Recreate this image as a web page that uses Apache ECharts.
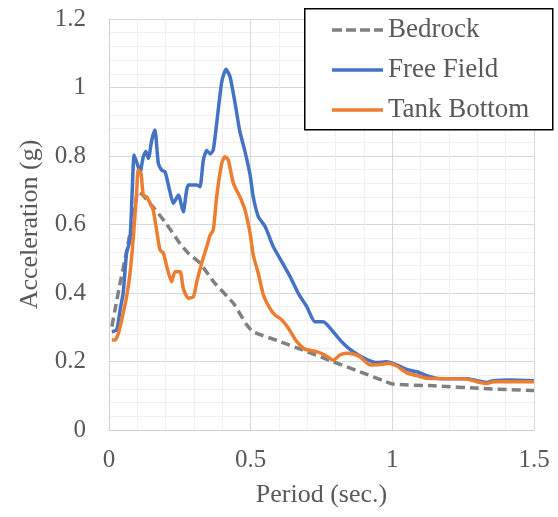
<!DOCTYPE html>
<html>
<head>
<meta charset="utf-8">
<script src="https://cdn.jsdelivr.net/npm/echarts@6/dist/echarts.min.js"></script>
<style>
html,body{margin:0;padding:0;background:#fff;}
#chart{width:558px;height:517px;}
</style>
</head>
<body>
<div id="chart"></div>
<script>
// X-axis tick labels: 0, 0.5, 1, 1.5; Y-axis: 0 ... 1.2
const seriesNames = ['Bedrock', 'Free Field', 'Tank Bottom'];

const bedrockT = [0.01,0.021,0.039,0.056,0.074,0.092,0.103,0.162,0.204,0.25,0.28,0.321,0.374,0.439,0.486,0.509,0.604,0.698,0.792,0.886,0.968,1.004,1.145,1.321,1.5];
const bedrockA = [0.302,0.35,0.428,0.496,0.574,0.652,0.696,0.645,0.60,0.545,0.516,0.487,0.428,0.37,0.307,0.287,0.258,0.229,0.199,0.17,0.144,0.134,0.129,0.121,0.115];

const freeFieldT = [0.01,0.027,0.039,0.05,0.062,0.074,0.082,0.089,0.103,0.109,0.121,0.13,0.139,0.151,0.162,0.174,0.186,0.198,0.215,0.227,0.245,0.262,0.28,0.31,0.321,0.333,0.345,0.357,0.368,0.38,0.398,0.413,0.427,0.445,0.462,0.48,0.498,0.509,0.527,0.551,0.58,0.61,0.639,0.668,0.698,0.727,0.756,0.786,0.815,0.845,0.88,0.915,0.945,0.98,1.016,1.051,1.086,1.133,1.168,1.263,1.298,1.333,1.357,1.415,1.5];
const freeFieldA = [0.287,0.292,0.35,0.40,0.516,0.555,0.70,0.803,0.769,0.75,0.798,0.813,0.793,0.847,0.876,0.779,0.759,0.754,0.696,0.662,0.686,0.637,0.715,0.715,0.71,0.788,0.816,0.806,0.818,0.895,1.017,1.053,1.032,0.954,0.871,0.813,0.745,0.681,0.623,0.594,0.535,0.491,0.448,0.399,0.36,0.316,0.316,0.292,0.263,0.239,0.219,0.204,0.197,0.199,0.19,0.177,0.17,0.156,0.15,0.15,0.144,0.139,0.144,0.146,0.144];

const tankBottomT = [0.01,0.021,0.033,0.05,0.062,0.074,0.086,0.098,0.103,0.113,0.121,0.133,0.145,0.156,0.168,0.18,0.192,0.204,0.221,0.233,0.251,0.262,0.28,0.298,0.31,0.327,0.345,0.357,0.368,0.38,0.398,0.409,0.421,0.439,0.462,0.48,0.498,0.509,0.527,0.545,0.568,0.586,0.61,0.633,0.663,0.692,0.733,0.762,0.792,0.815,0.839,0.862,0.886,0.921,0.968,0.986,1.016,1.051,1.086,1.121,1.263,1.298,1.333,1.357,1.5];
const tankBottomA = [0.263,0.263,0.282,0.341,0.389,0.457,0.564,0.701,0.759,0.749,0.686,0.681,0.662,0.642,0.584,0.526,0.516,0.477,0.433,0.462,0.462,0.414,0.385,0.389,0.433,0.487,0.535,0.569,0.584,0.681,0.779,0.798,0.788,0.72,0.681,0.642,0.574,0.511,0.457,0.394,0.355,0.336,0.321,0.297,0.258,0.236,0.229,0.219,0.204,0.219,0.224,0.222,0.214,0.19,0.192,0.195,0.187,0.167,0.159,0.151,0.149,0.141,0.136,0.141,0.141];

function pairs(t, a) { return t.map((x, i) => [x, a[i]]); }

const FONT = 'Liberation Serif';
const TXT = '#595959';
const COLORS = ['#808080', '#4472C4', '#ED7D31'];
const DASH = [10, 4];

// Legend drawn as a boxed key (serif text)
const legendGraphic = [
  {type: 'rect', left: 304, top: 8, z: 100,
   shape: {width: 248, height: 121},
   style: {fill: '#ffffff', stroke: '#000000', lineWidth: 1.5}}
];
seriesNames.forEach((name, i) => {
  const cy = 30 + i * 40;
  legendGraphic.push({type: 'line', z: 101,
    shape: {x1: 332, y1: cy, x2: 383, y2: cy},
    style: {stroke: COLORS[i], lineWidth: 3.5, lineDash: i === 0 ? DASH : null}});
  legendGraphic.push({type: 'text', z: 101, x: 388, y: cy,
    style: {text: name, fontFamily: FONT, fontSize: 27, fontWeight: 'normal', fill: TXT, verticalAlign: 'middle', align: 'left'}});
});

const chart = echarts.init(document.getElementById('chart'), null, {renderer: 'canvas'});
chart.setOption({
  animation: false,
  backgroundColor: '#ffffff',
  textStyle: {fontFamily: FONT, color: TXT},
  grid: {left: 109, right: 24, top: 19, bottom: 87, containLabel: false},
  graphic: legendGraphic,
  xAxis: {
    type: 'value', min: 0, max: 1.5, interval: 0.5,
    name: 'Period (sec.)', nameLocation: 'middle', nameGap: 52,
    nameTextStyle: {fontFamily: FONT, fontSize: 26, color: TXT},
    axisLine: {show: true, lineStyle: {color: '#D0D0D0', width: 1}},
    axisTick: {show: false},
    axisLabel: {fontFamily: FONT, fontSize: 25, color: TXT, margin: 18},
    splitLine: {show: true, lineStyle: {color: '#D9D9D9', width: 1}},
    minorTick: {show: false, splitNumber: 5},
    minorSplitLine: {show: true, lineStyle: {color: '#F0F0F0', width: 1}}
  },
  yAxis: {
    type: 'value', min: 0, max: 1.2, interval: 0.2,
    name: 'Acceleration (g)', nameLocation: 'middle', nameGap: 66, nameRotate: 90,
    nameTextStyle: {fontFamily: FONT, fontSize: 26, color: TXT},
    axisLine: {show: true, lineStyle: {color: '#D0D0D0', width: 1}},
    axisTick: {show: false},
    axisLabel: {fontFamily: FONT, fontSize: 25, color: TXT, margin: 23},
    splitLine: {show: true, lineStyle: {color: '#D9D9D9', width: 1}},
    minorTick: {show: false, splitNumber: 5},
    minorSplitLine: {show: true, lineStyle: {color: '#F0F0F0', width: 1}}
  },
  series: [
    {name: seriesNames[0], type: 'line', data: pairs(bedrockT, bedrockA), symbol: 'none', smooth: 0.2,
     lineStyle: {color: COLORS[0], width: 3.5, type: [9, 5]}, itemStyle: {color: COLORS[0]}, z: 2},
    {name: seriesNames[1], type: 'line', data: pairs(freeFieldT, freeFieldA), symbol: 'none', smooth: 0.2,
     lineStyle: {color: COLORS[1], width: 3.5}, itemStyle: {color: COLORS[1]}, z: 3},
    {name: seriesNames[2], type: 'line', data: pairs(tankBottomT, tankBottomA), symbol: 'none', smooth: 0.2,
     lineStyle: {color: COLORS[2], width: 3.5}, itemStyle: {color: COLORS[2]}, z: 4}
  ]
});
</script>
</body>
</html>
